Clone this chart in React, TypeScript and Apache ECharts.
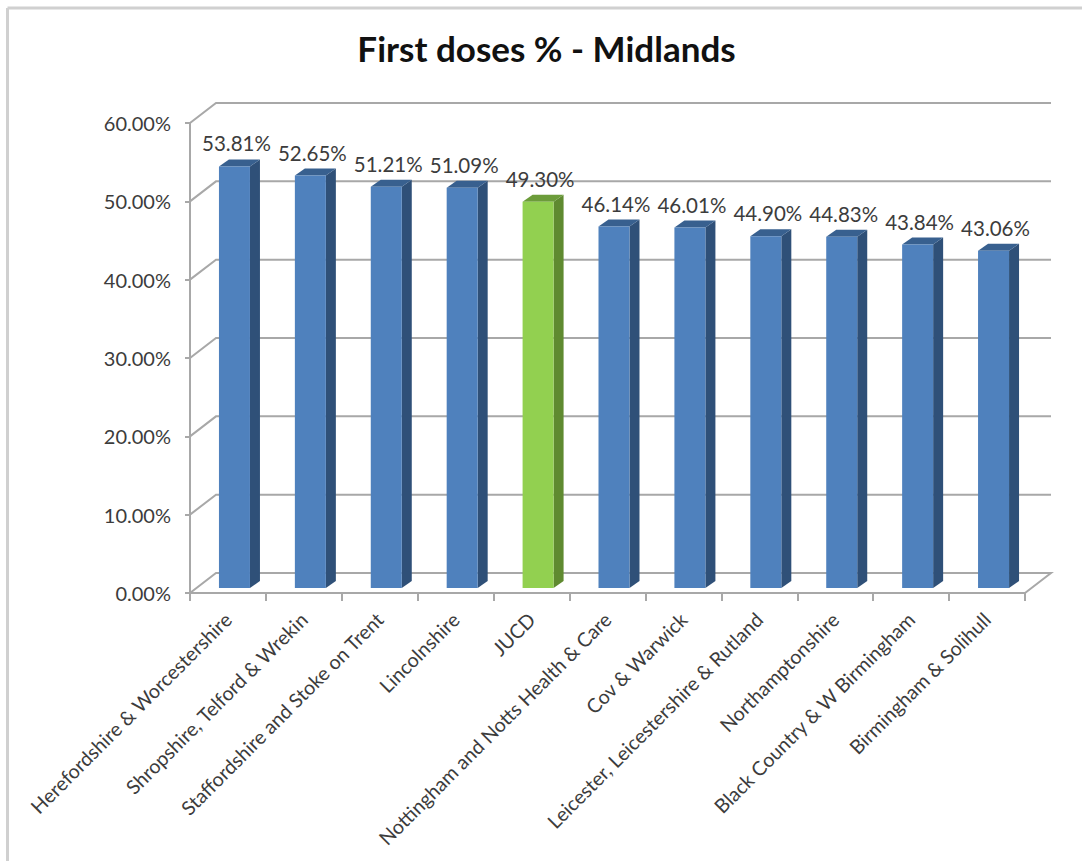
import React, { useEffect, useRef } from "react";
import * as echarts from "echarts";

const titleText = "First doses % - Midlands";
const categories = [
  "Herefordshire & Worcestershire",
  "Shropshire, Telford & Wrekin",
  "Staffordshire and Stoke on Trent",
  "Lincolnshire",
  "JUCD",
  "Nottingham and Notts Health & Care",
  "Cov & Warwick",
  "Leicester, Leicestershire & Rutland",
  "Northamptonshire",
  "Black Country & W Birmingham",
  "Birmingham & Solihull",
];
const values = [53.81, 52.65, 51.21, 51.09, 49.3, 46.14, 46.01, 44.9, 44.83, 43.84, 43.06];
const highlighted = "JUCD";
const yTicks = [0, 10, 20, 30, 40, 50, 60];

const FONT = "Lato, 'Open Sans', sans-serif";
const WALL_DX = 26;
const WALL_DY = -20;
const GRID_COLOR = "#a8a8a8";
const TEXT_COLOR = "#3c3c3c";
const BAR_W = 31;
const BAR_DX = 10;
const BAR_DY = -7;
const BAR_SHIFT_X = 6.5;
const BAR_SHIFT_Y = -5;
const BLUE = { front: "#4f81bd", side: "#2f5078", top: "#38608f" };
const GREEN = { front: "#92d050", side: "#5f8a30", top: "#6c9c3a" };

function App() {
  const ref = useRef<HTMLDivElement>(null);
  useEffect(() => {
    const chart = echarts.init(ref.current!, null, { renderer: "svg" });
    chart.setOption({
      animation: false,
      backgroundColor: "#ffffff",
      title: {
        text: titleText,
        left: 541.5,
        top: 25,
        textAlign: "center",
        textStyle: { fontFamily: FONT, fontSize: 35, fontWeight: "bold", color: "#111111" },
      },
      graphic: [
        { type: "line", shape: { x1: 7.5, y1: 8, x2: 1082, y2: 8 }, style: { stroke: "#d0d0d0", lineWidth: 3 } },
        { type: "line", shape: { x1: 7.5, y1: 8, x2: 7.5, y2: 861 }, style: { stroke: "#d0d0d0", lineWidth: 3 } },
      ],
      grid: { left: 190, top: 123, width: 835, height: 470, containLabel: false },
      xAxis: {
        type: "category",
        data: categories,
        boundaryGap: true,
        axisLine: { show: true, lineStyle: { color: GRID_COLOR, width: 2 } },
        axisTick: { show: true, length: 8, alignWithLabel: false, lineStyle: { color: GRID_COLOR, width: 2 } },
        axisLabel: {
          interval: 0,
          rotate: 45,
          margin: 23,
          fontFamily: FONT,
          fontSize: 19.7,
          color: TEXT_COLOR,
        },
      },
      yAxis: {
        type: "value",
        min: 0,
        max: 60,
        interval: 10,
        splitLine: { show: false },
        axisLine: { show: true, lineStyle: { color: GRID_COLOR, width: 2 } },
        axisTick: { show: true, length: 5, lineStyle: { color: GRID_COLOR, width: 2 } },
        axisLabel: {
          margin: 19,
          fontFamily: FONT,
          fontSize: 20,
          color: TEXT_COLOR,
          formatter: (v: number) => v.toFixed(2) + "%",
        },
      },
      series: [
        {
          type: "custom",
          clip: false,
          silent: true,
          z: 1,
          encode: { x: 0, y: 1 },
          data: yTicks.map((t) => [0, t]),
          renderItem: (params: any, api: any) => {
            const cs = params.coordSys;
            const y = api.coord([0, api.value(1)])[1];
            const left = cs.x;
            const right = cs.x + cs.width;
            const pts: number[][] =
              api.value(1) === 0
                ? [
                    [left, y],
                    [left + WALL_DX, y + WALL_DY],
                    [right + WALL_DX, y + WALL_DY],
                    [right, y],
                  ]
                : [
                    [left, y],
                    [left + WALL_DX, y + WALL_DY],
                    [right + WALL_DX, y + WALL_DY],
                  ];
            return {
              type: "polyline",
              shape: { points: pts },
              style: { stroke: GRID_COLOR, lineWidth: 2, fill: "none" },
            };
          },
        },
        {
          type: "custom",
          clip: false,
          z: 3,
          encode: { x: 0, y: 1 },
          data: values.map((v, i) => [i, v]),
          renderItem: (_params: any, api: any) => {
            const i = api.value(0);
            const top = api.coord([i, api.value(1)]);
            const base = api.coord([i, 0]);
            const x0 = top[0] + BAR_SHIFT_X - BAR_W / 2;
            const x1 = x0 + BAR_W;
            const yt = top[1] + BAR_SHIFT_Y;
            const yb = base[1] + BAR_SHIFT_Y;
            const c = categories[i] === highlighted ? GREEN : BLUE;
            return {
              type: "group",
              children: [
                {
                  type: "polygon",
                  shape: { points: [[x1, yt], [x1 + BAR_DX, yt + BAR_DY], [x1 + BAR_DX, yb + BAR_DY], [x1, yb]] },
                  style: { fill: c.side },
                },
                {
                  type: "polygon",
                  shape: { points: [[x0, yt], [x0 + BAR_DX, yt + BAR_DY], [x1 + BAR_DX, yt + BAR_DY], [x1, yt]] },
                  style: { fill: c.top },
                },
                {
                  type: "rect",
                  shape: { x: x0, y: yt, width: BAR_W, height: yb - yt },
                  style: { fill: c.front },
                },
                {
                  type: "text",
                  style: {
                    x: (x0 + x1) / 2 + 2,
                    y: yt - 23,
                    text: api.value(1).toFixed(2) + "%",
                    align: "center",
                    verticalAlign: "middle",
                    fontFamily: FONT,
                    fontSize: 20.5,
                    fill: TEXT_COLOR,
                  },
                },
              ],
            };
          },
        },
      ],
    });
    return () => chart.dispose();
  }, []);
  return (
    <div
      ref={ref}
      style={{ position: "absolute", left: 0, top: 0, width: 1082, height: 861 }}
    />
  );
}

export default App;
